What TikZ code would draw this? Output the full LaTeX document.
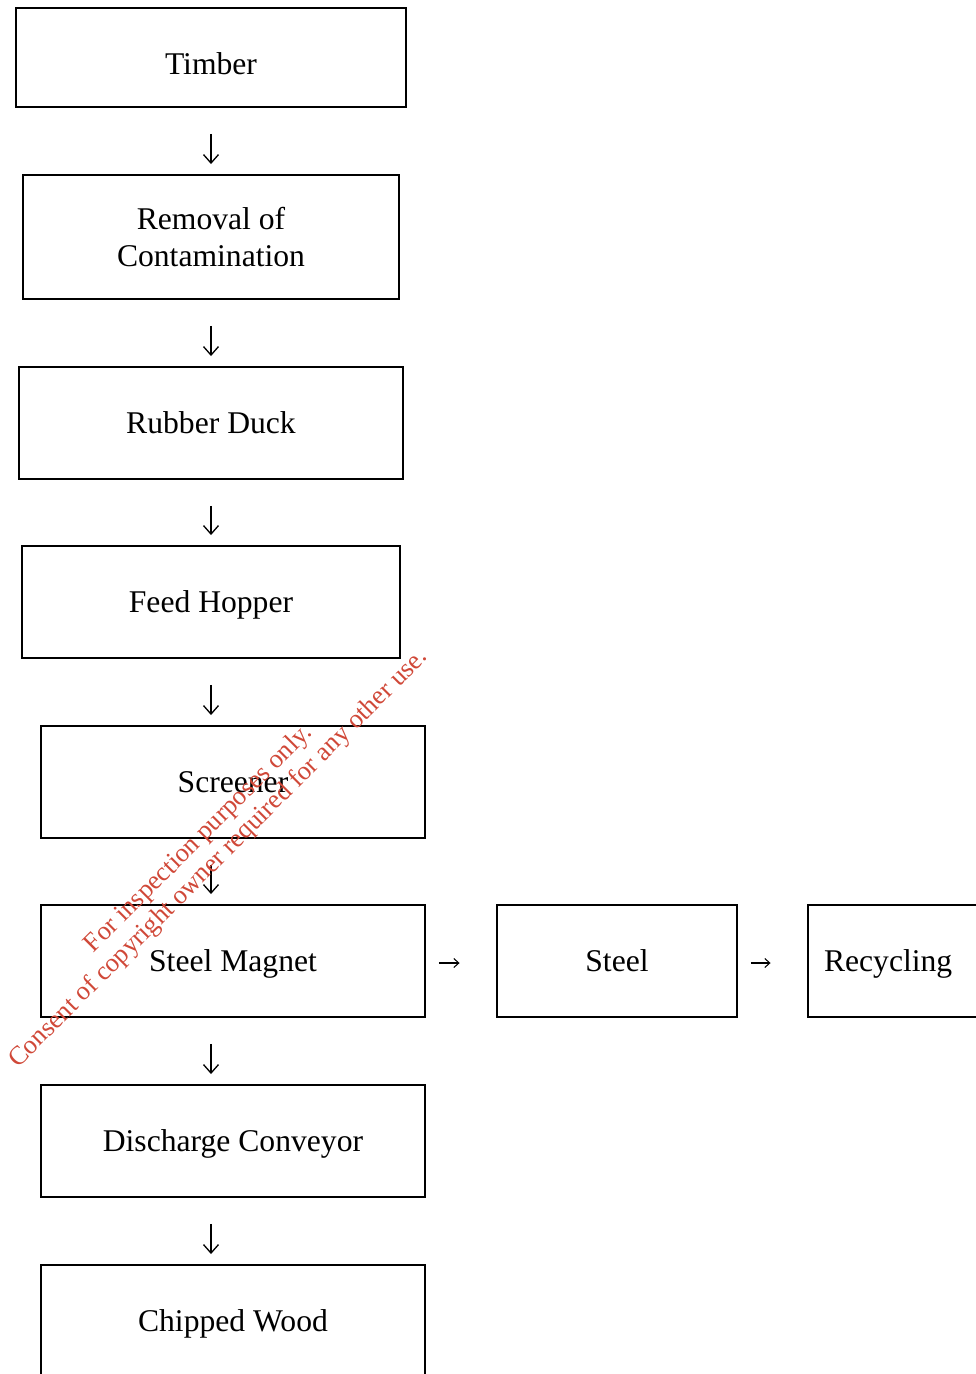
\documentclass[tikz,border=0pt]{standalone}
\usepackage{fontspec}
\setmainfont{Liberation Serif}
\usetikzlibrary{arrows.meta, positioning}
\definecolor{stampred}{RGB}{208,72,56}

\begin{document}
\begin{tikzpicture}[x=0.02cm, y=-0.02cm,
    box/.style={draw, line width=1.1pt, inner sep=0pt, align=center, font=\fontsize{18}{21.5}\selectfont},
    single/.style={box, text height=12.3pt, text depth=0pt},
    down/.style={line width=0.75pt, -{Straight Barb[length=0.17cm, width=0.3cm]}, shorten <=0.52cm, shorten >=0.2cm},
    side/.style={line width=0.6pt, -{Straight Barb[length=0.1cm, width=0.18cm]}, shorten <=0.26cm, shorten >=0.73cm,
        transform canvas={yshift=-0.04cm}},
    stamp/.style={text=stampred, align=center, inner sep=0pt, font=\fontsize{15}{16}\selectfont}
]
\useasboundingbox (0,0) rectangle (976,1374);

% Main line
\node[single, text height=0.67cm, minimum width=7.8cm, minimum height=1.98cm] (timber) at (211,57.5) {Timber};
\node[box, minimum width=7.52cm, minimum height=2.48cm] (removal) at (211,237) {Removal of\\Contamination};
\node[single, minimum width=7.68cm, minimum height=2.24cm] (duck) at (211,423) {Rubber Duck};
\node[single, minimum width=7.56cm, minimum height=2.24cm] (hopper) at (211,602) {Feed Hopper};
\node[single, minimum width=7.68cm, minimum height=2.24cm] (screener) at (233,782) {Screener};
\node[single, minimum width=7.68cm, minimum height=2.24cm] (magnet) at (233,961) {Steel Magnet};
\node[single, minimum width=7.68cm, minimum height=2.24cm] (conveyor) at (233,1141) {Discharge Conveyor};
\node[single, minimum width=7.68cm, minimum height=2.24cm] (chips) at (233,1321) {Chipped Wood};

% Steel branch
\node[single, minimum width=4.8cm, minimum height=2.24cm] (steel) at (617,961) {Steel};
\node[single, minimum width=4cm, minimum height=2.24cm, text width=3.36cm, align=left] (recycling) at (908,961) {Recycling};

% Arrows
\draw[down] (timber) -- (removal);
\draw[down] (removal) -- (duck);
\draw[down] (duck) -- (hopper);
\draw[down] (hopper.south -| timber) -- (screener.north -| timber);
\draw[down] (screener.south -| timber) -- (magnet.north -| timber);
\draw[down] (magnet.south -| timber) -- (conveyor.north -| timber);
\draw[down] (conveyor.south -| timber) -- (chips.north -| timber);
\draw[side] (magnet) -- (steel);
\draw[side] (steel) -- (recycling);

% Watermark
\node[stamp, rotate=45] (mark) at (209,849) {For inspection purposes only.\\Consent of copyright owner required for any other use.};

\end{tikzpicture}
\end{document}
